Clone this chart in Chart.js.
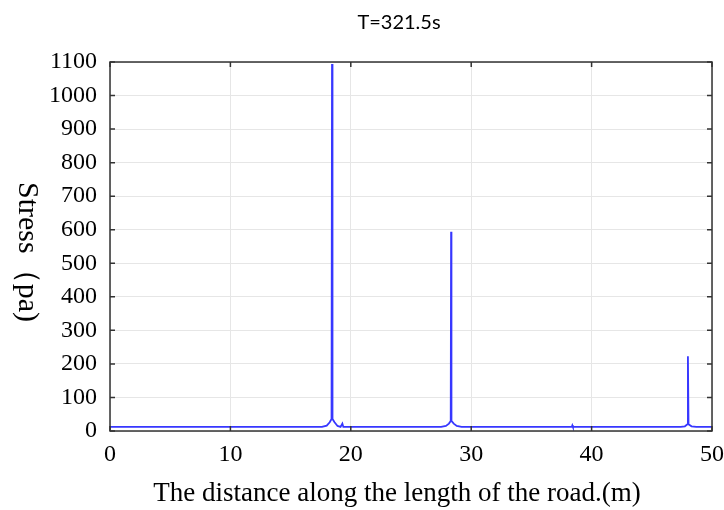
<!DOCTYPE html>
<html>
<head>
<meta charset="utf-8">
<script src="https://cdn.jsdelivr.net/npm/chart.js@4.4.1/dist/chart.umd.min.js"></script>
<style>
    html, body { margin: 0; padding: 0; background: #ffffff; }
    #wrap { width: 724px; height: 510px; }
</style>
</head>
<body>
<div id="wrap"><canvas id="stressChart" width="724" height="510"></canvas></div>
<script>
// stress along the road at T=321.5s
const distance = [0, 17.6, 18.0, 18.25, 18.4, 18.44, 18.48, 18.65, 18.9, 19.15, 19.3, 19.38,
    27.5, 27.9, 28.15, 28.3, 28.33, 28.36, 28.55, 28.8, 29.2,
    38.35, 38.4, 38.45,
    47.4, 47.75, 47.95, 48.0, 48.05, 48.3, 48.7, 50];
const stress = [12, 12, 16, 26, 36, 1094, 36, 26, 15, 12, 22, 12,
    12, 15, 22, 30, 594, 30, 22, 15, 12,
    12, 17, 12,
    12, 14, 20, 223, 20, 14, 12, 12];

const xTicks = [0, 10, 20, 30, 40, 50];
const yTicks = [0, 100, 200, 300, 400, 500, 600, 700, 800, 900, 1000, 1100];

const titleText = "T=321.5s";
const xTitle = "The distance along the length of the road.(m)";
const yTitle = "Stress\uFF08pa)";

const serif = "'Liberation Serif', 'Times New Roman', serif";

// frame, inward ticks on all four sides, and the three titles
const framePlugin = {
    id: "frame",
    afterDraw(chart) {
        const {ctx, chartArea: a, scales} = chart;
        const len = 5;
        ctx.save();
        ctx.strokeStyle = "#333333";
        ctx.lineWidth = 1.5;
        ctx.strokeRect(a.left, a.top, a.right - a.left, a.bottom - a.top);
        ctx.beginPath();
        xTicks.forEach((v) => {
            const px = scales.x.getPixelForValue(v);
            ctx.moveTo(px, a.bottom);
            ctx.lineTo(px, a.bottom - len);
            ctx.moveTo(px, a.top);
            ctx.lineTo(px, a.top + len);
        });
        yTicks.forEach((v) => {
            const py = scales.y.getPixelForValue(v);
            ctx.moveTo(a.left, py);
            ctx.lineTo(a.left + len, py);
            ctx.moveTo(a.right, py);
            ctx.lineTo(a.right - len, py);
        });
        ctx.stroke();

        ctx.fillStyle = "#000000";
        ctx.textAlign = "center";
        ctx.textBaseline = "middle";
        ctx.font = "20px Lato, 'Open Sans', sans-serif";
        ctx.fillText(titleText, 399, 23);

        ctx.font = "27px " + serif;
        ctx.fillText(xTitle, 397, 494);

        ctx.translate(27, 252);
        ctx.rotate(Math.PI / 2);
        ctx.font = "30px " + serif;
        ctx.fillText(yTitle, 0, 0);
        ctx.restore();
    }
};

const ctx = document.getElementById("stressChart").getContext("2d");
new Chart(ctx, {
    type: "line",
    data: {
        datasets: [
            {
                data: distance.map((d, i) => ({x: d, y: stress[i]})),
                borderColor: "rgba(55, 55, 255, 1)",
                borderWidth: 1.8,
                pointRadius: 0,
                tension: 0,
                fill: false
            }
        ]
    },
    options: {
        responsive: false,
        animation: false,
        layout: {
            padding: {top: 62, right: 12, bottom: 0, left: 0}
        },
        plugins: {
            legend: {display: false},
            title: {display: false},
            tooltip: {enabled: false}
        },
        scales: {
            x: {
                type: "linear",
                min: 0,
                max: 50,
                afterBuildTicks: (scale) => {
                    scale.ticks = xTicks.map((v) => ({value: v}));
                },
                afterFit: (scale) => {
                    scale.height = 79;
                    scale.paddingLeft = 0;
                    scale.paddingRight = 0;
                },
                grid: {color: "#e6e6e6", lineWidth: 1, drawTicks: false},
                border: {display: false},
                ticks: {
                    padding: 9,
                    color: "#000000",
                    maxRotation: 0,
                    font: {family: serif, size: 24},
                    callback: (v) => String(v)
                }
            },
            y: {
                type: "linear",
                min: 0,
                max: 1100,
                afterBuildTicks: (scale) => {
                    scale.ticks = yTicks.map((v) => ({value: v}));
                },
                afterFit: (scale) => {
                    scale.width = 110;
                    scale.paddingTop = 0;
                    scale.paddingBottom = 0;
                },
                grid: {color: "#e6e6e6", lineWidth: 1, drawTicks: false},
                border: {display: false},
                ticks: {
                    padding: 13,
                    color: "#000000",
                    autoSkip: false,
                    font: {family: serif, size: 24},
                    callback: (v) => String(v)
                }
            }
        }
    },
    plugins: [framePlugin]
});
</script>
</body>
</html>
